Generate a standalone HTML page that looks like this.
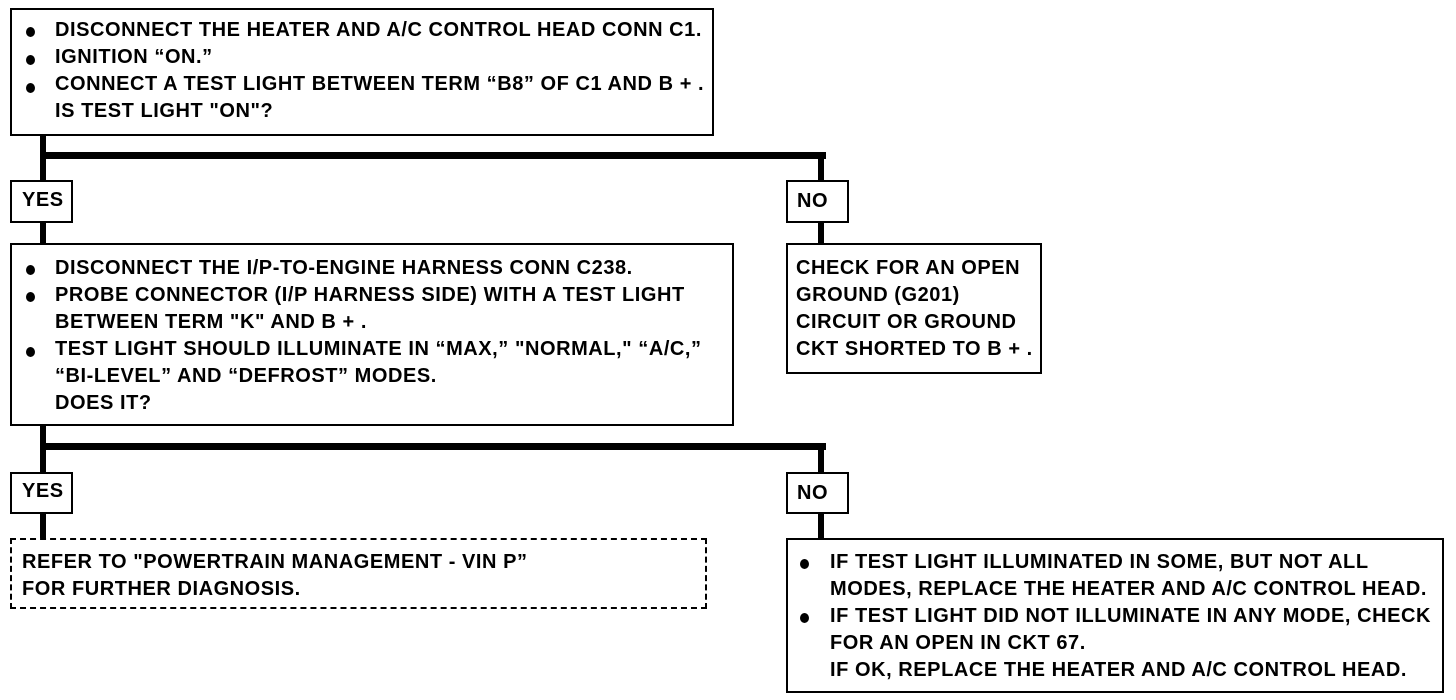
<!DOCTYPE html>
<html><head><style>
body{margin:0;width:1456px;height:700px;background:#fff;position:relative;overflow:hidden;font-family:"Liberation Sans",sans-serif;font-weight:bold;color:#000}
.b{position:absolute;border:2.5px solid #000;box-sizing:border-box;background:#fff}
.d{border-style:dashed}
.l{position:absolute;background:#000}
.t{position:absolute;font-size:20px;white-space:nowrap;line-height:27px;letter-spacing:0.55px}
.dot{position:absolute;width:9px;height:10px;border-radius:50%;background:#000}
</style></head><body>
<div class="l" style="left:40px;top:130px;width:6px;height:115px"></div>
<div class="l" style="left:40px;top:152px;width:786px;height:7px"></div>
<div class="l" style="left:818px;top:152px;width:6px;height:93px"></div>
<div class="l" style="left:40px;top:420px;width:6px;height:120px"></div>
<div class="l" style="left:40px;top:443px;width:786px;height:7px"></div>
<div class="l" style="left:818px;top:443px;width:6px;height:97px"></div>

<div class="b" style="left:10px;top:8px;width:704px;height:128px"></div>
<div class="dot" style="left:26px;top:27px"></div><div class="dot" style="left:26px;top:55px"></div><div class="dot" style="left:26px;top:83px"></div>
<div class="t" style="left:55px;top:17px">DISCONNECT THE HEATER AND A/C CONTROL HEAD CONN C1.<br>IGNITION “ON.”<br>CONNECT A TEST LIGHT BETWEEN TERM “B8” OF C1 AND B + .<br>IS TEST LIGHT "ON"?</div>

<div class="b" style="left:10px;top:180px;width:63px;height:43px"></div><div class="t" style="left:22px;top:187px">YES</div>
<div class="b" style="left:786px;top:180px;width:63px;height:43px"></div><div class="t" style="left:797px;top:188px">NO</div>

<div class="b" style="left:10px;top:243px;width:724px;height:183px"></div>
<div class="dot" style="left:26px;top:265px"></div><div class="dot" style="left:26px;top:292px"></div><div class="dot" style="left:26px;top:347px"></div>
<div class="t" style="left:55px;top:255px">DISCONNECT THE I/P-TO-ENGINE HARNESS CONN C238.<br>PROBE CONNECTOR (I/P HARNESS SIDE) WITH A TEST LIGHT<br>BETWEEN TERM "K" AND B + .<br>TEST LIGHT SHOULD ILLUMINATE IN “MAX,” "NORMAL," “A/C,”<br>“BI-LEVEL” AND “DEFROST” MODES.<br>DOES IT?</div>

<div class="b" style="left:786px;top:243px;width:256px;height:131px"></div>
<div class="t" style="left:796px;top:255px">CHECK FOR AN OPEN<br>GROUND (G201)<br>CIRCUIT OR GROUND<br>CKT SHORTED TO B + .</div>

<div class="b" style="left:10px;top:472px;width:63px;height:42px"></div><div class="t" style="left:22px;top:478px">YES</div>
<div class="b" style="left:786px;top:472px;width:63px;height:42px"></div><div class="t" style="left:797px;top:480px">NO</div>

<div class="b d" style="left:10px;top:538px;width:697px;height:71px"></div>
<div class="t" style="left:22px;top:549px">REFER TO "POWERTRAIN MANAGEMENT - VIN P”<br>FOR FURTHER DIAGNOSIS.</div>

<div class="b" style="left:786px;top:538px;width:658px;height:155px"></div>
<div class="dot" style="left:800px;top:559px"></div><div class="dot" style="left:800px;top:613px"></div>
<div class="t" style="left:830px;top:549px">IF TEST LIGHT ILLUMINATED IN SOME, BUT NOT ALL<br>MODES, REPLACE THE HEATER AND A/C CONTROL HEAD.<br>IF TEST LIGHT DID NOT ILLUMINATE IN ANY MODE, CHECK<br>FOR AN OPEN IN CKT 67.<br>IF OK, REPLACE THE HEATER AND A/C CONTROL HEAD.</div>
</body></html>
